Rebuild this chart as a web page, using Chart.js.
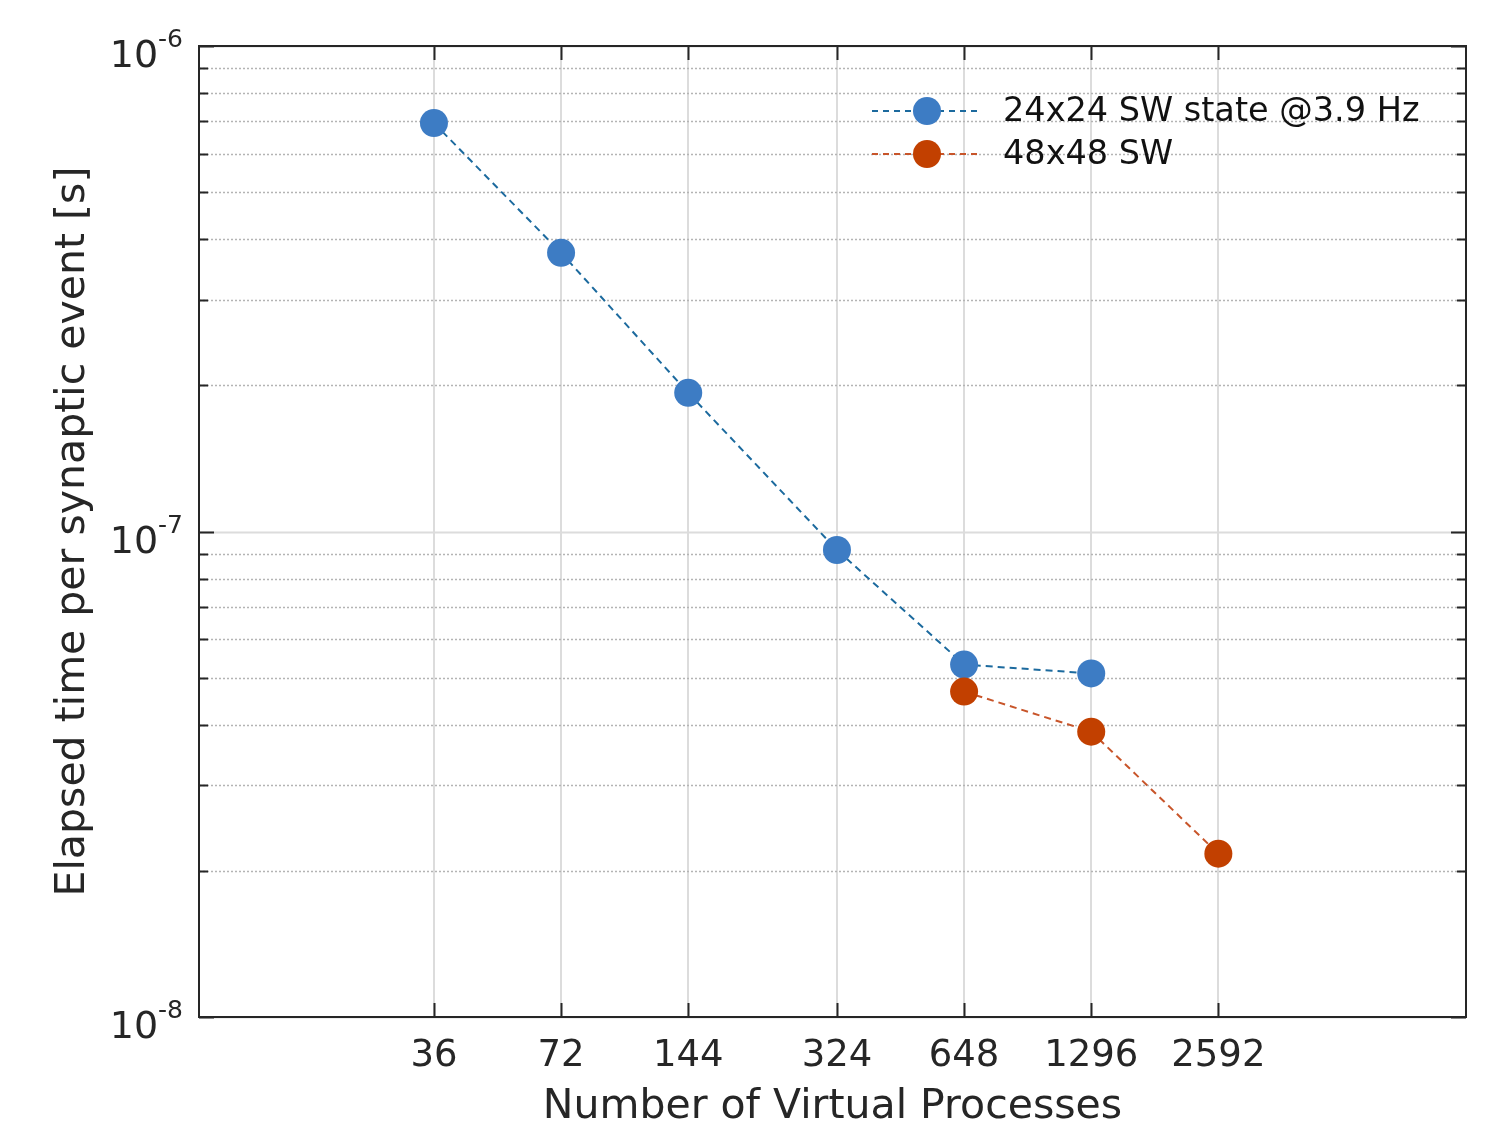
<!DOCTYPE html>
<html>
<head>
<meta charset="utf-8">
<script src="https://cdn.jsdelivr.net/npm/chart.js@4/dist/chart.umd.min.js"></script>
<style>
  html, body { margin: 0; padding: 0; background: #ffffff; }
  #wrap { width: 1503px; height: 1134px; }
</style>
</head>
<body>
<div id="wrap"><canvas id="scalingChart" width="1503" height="1134"></canvas></div>
<script>
// values
const vp_ticks = [36, 72, 144, 324, 648, 1296, 2592];
const y_decades = [1e-8, 1e-7, 1e-6];

const sw24_label = "24x24 SW state @3.9 Hz";
const sw24_vp = [36, 72, 144, 324, 648, 1296];
const sw24_time = [6.94e-7, 3.75e-7, 1.93e-7, 9.16e-8, 5.32e-8, 5.10e-8];

const sw48_label = "48x48 SW";
const sw48_vp = [648, 1296, 2592];
const sw48_time = [4.68e-8, 3.87e-8, 2.17e-8];

const font_family = "'DejaVu Sans', 'Liberation Sans', sans-serif";
const text_color = "#262626";
const blue_marker = "#3d7cc4";
const blue_line = "#1c6a9e";
const orange_marker = "#c24000";
const orange_line = "#c8552a";

function to_points(xs, ys) {
    return xs.map((x, i) => ({ x: x, y: ys[i] }));
}

// minor ticks 1..9 per decade (axis ticks only, not data)
function y_tick_values() {
    const vals = [];
    for (let d = 0; d < y_decades.length - 1; d++) {
        for (let k = 1; k <= 9; k++) vals.push(k * y_decades[d]);
    }
    vals.push(y_decades[y_decades.length - 1]);
    return vals;
}

function is_decade(v) {
    return y_decades.some(d => Math.abs(d - v) / d < 1e-6);
}

const frame_plugin = {
    id: "frame",
    beforeDatasetsDraw(chart) {
        const ctx = chart.ctx;
        const { left, right, top, bottom } = chart.chartArea;
        const yScale = chart.scales.y;
        const xScale = chart.scales.x;
        ctx.save();
        // horizontal grid: solid on decades, dotted on minors
        y_tick_values().forEach(v => {
            const py = Math.round(yScale.getPixelForValue(v)) + 0.5;
            ctx.beginPath();
            if (is_decade(v)) {
                ctx.setLineDash([]);
                ctx.strokeStyle = "#dcdcdc";
                ctx.lineWidth = 2;
            } else {
                ctx.setLineDash([2, 2]);
                ctx.strokeStyle = "#b4b4b4";
                ctx.lineWidth = 1.5;
            }
            ctx.moveTo(left, py);
            ctx.lineTo(right, py);
            ctx.stroke();
        });
        ctx.setLineDash([]);
        // inward tick marks on all four sides
        ctx.strokeStyle = text_color;
        ctx.lineWidth = 2;
        y_tick_values().forEach(v => {
            const py = Math.round(yScale.getPixelForValue(v)) + 0.5;
            const len = is_decade(v) ? 15 : 9;
            ctx.beginPath();
            ctx.moveTo(left, py);
            ctx.lineTo(left + len, py);
            ctx.moveTo(right, py);
            ctx.lineTo(right - len, py);
            ctx.stroke();
        });
        vp_ticks.forEach(v => {
            const px = Math.round(xScale.getPixelForValue(v)) + 0.5;
            ctx.beginPath();
            ctx.moveTo(px, bottom);
            ctx.lineTo(px, bottom - 14);
            ctx.moveTo(px, top);
            ctx.lineTo(px, top + 14);
            ctx.stroke();
        });
        ctx.restore();
    },
    afterDraw(chart) {
        const ctx = chart.ctx;
        const { left, right, top, bottom } = chart.chartArea;
        const yScale = chart.scales.y;
        ctx.save();
        // axes box
        ctx.strokeStyle = text_color;
        ctx.lineWidth = 2;
        ctx.strokeRect(left, top, right - left, bottom - top);

        // y tick labels as 10^n
        ctx.fillStyle = text_color;
        ctx.textAlign = "right";
        ctx.textBaseline = "alphabetic";
        y_decades.forEach(v => {
            const py = yScale.getPixelForValue(v);
            const expText = String(Math.round(Math.log10(v)));
            ctx.font = "25px " + font_family;
            const expW = ctx.measureText(expText).width;
            ctx.fillText(expText, 183, py + 1);
            ctx.font = "38px " + font_family;
            ctx.fillText("10", 183 - expW, py + 21);
        });

        // legend
        const rows = [
            { label: sw24_label, marker: blue_marker, line: blue_line, y: 111 },
            { label: sw48_label, marker: orange_marker, line: orange_line, y: 154 }
        ];
        rows.forEach(r => {
            ctx.beginPath();
            ctx.setLineDash([6, 5]);
            ctx.strokeStyle = r.line;
            ctx.lineWidth = 2;
            ctx.moveTo(872, r.y);
            ctx.lineTo(982, r.y);
            ctx.stroke();
            ctx.setLineDash([]);
            ctx.beginPath();
            ctx.fillStyle = r.marker;
            ctx.arc(927, r.y, 14, 0, Math.PI * 2);
            ctx.fill();
            ctx.fillStyle = "#111111";
            ctx.textAlign = "left";
            ctx.textBaseline = "middle";
            ctx.font = "33.5px " + font_family;
            ctx.fillText(r.label, 1003, r.y + 1);
        });
        ctx.restore();
    }
};

new Chart(document.getElementById("scalingChart"), {
    type: "line",
    data: {
        datasets: [{
            label: sw24_label,
            data: to_points(sw24_vp, sw24_time),
            borderColor: blue_line,
            borderWidth: 2,
            borderDash: [7, 5],
            pointRadius: 14,
            pointBorderWidth: 0,
            pointBackgroundColor: blue_marker,
            pointBorderColor: blue_marker,
            tension: 0,
            order: 1
        }, {
            label: sw48_label,
            data: to_points(sw48_vp, sw48_time),
            borderColor: orange_line,
            borderWidth: 2,
            borderDash: [7, 5],
            pointRadius: 14,
            pointBorderWidth: 0,
            pointBackgroundColor: orange_marker,
            pointBorderColor: orange_marker,
            tension: 0,
            order: 0
        }]
    },
    options: {
        responsive: false,
        animation: false,
        devicePixelRatio: 1,
        layout: {
            padding: { top: 46, right: 37, left: 0, bottom: 0 }
        },
        plugins: {
            legend: { display: false },
            tooltip: { enabled: false }
        },
        scales: {
            x: {
                type: "logarithmic",
                position: "bottom",
                min: 10,
                max: 10000,
                afterBuildTicks: scale => {
                    scale.ticks = vp_ticks.map(v => ({ value: v }));
                },
                afterFit: scale => {
                    scale.height = 117;
                },
                ticks: {
                    autoSkip: false,
                    maxRotation: 0,
                    padding: 17,
                    color: text_color,
                    font: { family: font_family, size: 37 },
                    callback: v => String(v)
                },
                grid: {
                    color: "#dcdcdc",
                    lineWidth: 2,
                    drawTicks: false
                },
                border: { display: false },
                title: {
                    display: true,
                    text: "Number of Virtual Processes",
                    color: text_color,
                    font: { family: font_family, size: 41 },
                    padding: { top: 0, bottom: 2 }
                }
            },
            y: {
                type: "logarithmic",
                position: "left",
                min: 1e-8,
                max: 1e-6,
                afterBuildTicks: scale => {
                    scale.ticks = y_decades.map(v => ({ value: v }));
                },
                afterFit: scale => {
                    scale.width = 199;
                },
                ticks: {
                    callback: () => ""
                },
                grid: { display: false },
                border: { display: false },
                title: {
                    display: true,
                    text: "Elapsed time per synaptic event [s]",
                    color: text_color,
                    font: { family: font_family, size: 41 },
                    padding: { top: 49, bottom: 0 }
                }
            }
        }
    },
    plugins: [frame_plugin]
});
</script>
</body>
</html>
